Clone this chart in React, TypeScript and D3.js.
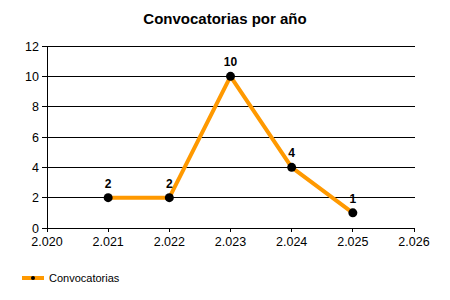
import React from "react";
import * as d3 from "d3";

const years = [2021, 2022, 2023, 2024, 2025];
const counts = [2, 2, 10, 4, 1];
const xTicks = [2020, 2021, 2022, 2023, 2024, 2025, 2026];
const yTicks = [0, 2, 4, 6, 8, 10, 12];
const title = "Convocatorias por año";
const seriesName = "Convocatorias";

export default function App() {
  const W = 450, H = 300;
  const x = d3.scaleLinear().domain([2020, 2026]).range([47, 414]);
  const y = d3.scaleLinear().domain([0, 12]).range([228, 46]);
  const line = d3.line<number>().x((_, i) => x(years[i])).y((d) => y(d));
  const fmt = (v: number) => (v / 1000).toFixed(3);
  const font = "'Liberation Sans', Arial, sans-serif";
  return (
    <svg width={W} height={H} style={{ position: "absolute", left: 0, top: 0, background: "#fff" }} fontFamily={font}>
      <text x={225} y={24} textAnchor="middle" fontSize={15} fontWeight="bold">{title}</text>
      {yTicks.map((t) => (
        <g key={t}>
          <line x1={42} x2={415} y1={y(t)} y2={y(t)} stroke="#000" strokeWidth={1} shapeRendering="crispEdges" />
          <text x={39} y={y(t) + 4.5} textAnchor="end" fontSize={12.5}>{t}</text>
        </g>
      ))}
      <line x1={x(2020)} x2={x(2020)} y1={y(12)} y2={y(0)} stroke="#000" shapeRendering="crispEdges" />
      {xTicks.map((t) => (
        <g key={t}>
          <line x1={x(t)} x2={x(t)} y1={y(0)} y2={y(0) + 4} stroke="#000" shapeRendering="crispEdges" />
          <text x={x(t)} y={246} textAnchor="middle" fontSize={12.5}>{fmt(t)}</text>
        </g>
      ))}
      <path d={line(counts) || ""} fill="none" stroke="#FF9900" strokeWidth={4} strokeLinejoin="round" />
      {counts.map((c, i) => (
        <g key={i}>
          <circle cx={x(years[i])} cy={y(c)} r={4.5} fill="#000" />
          <text x={x(years[i])} y={y(c) - 10} textAnchor="middle" fontSize={12} fontWeight="bold">{c}</text>
        </g>
      ))}
      <line x1={22} x2={44} y1={278} y2={278} stroke="#FF9900" strokeWidth={4} />
      <circle cx={33} cy={278} r={2} fill="#000" />
      <text x={49} y={282} fontSize={11}>{seriesName}</text>
    </svg>
  );
}
